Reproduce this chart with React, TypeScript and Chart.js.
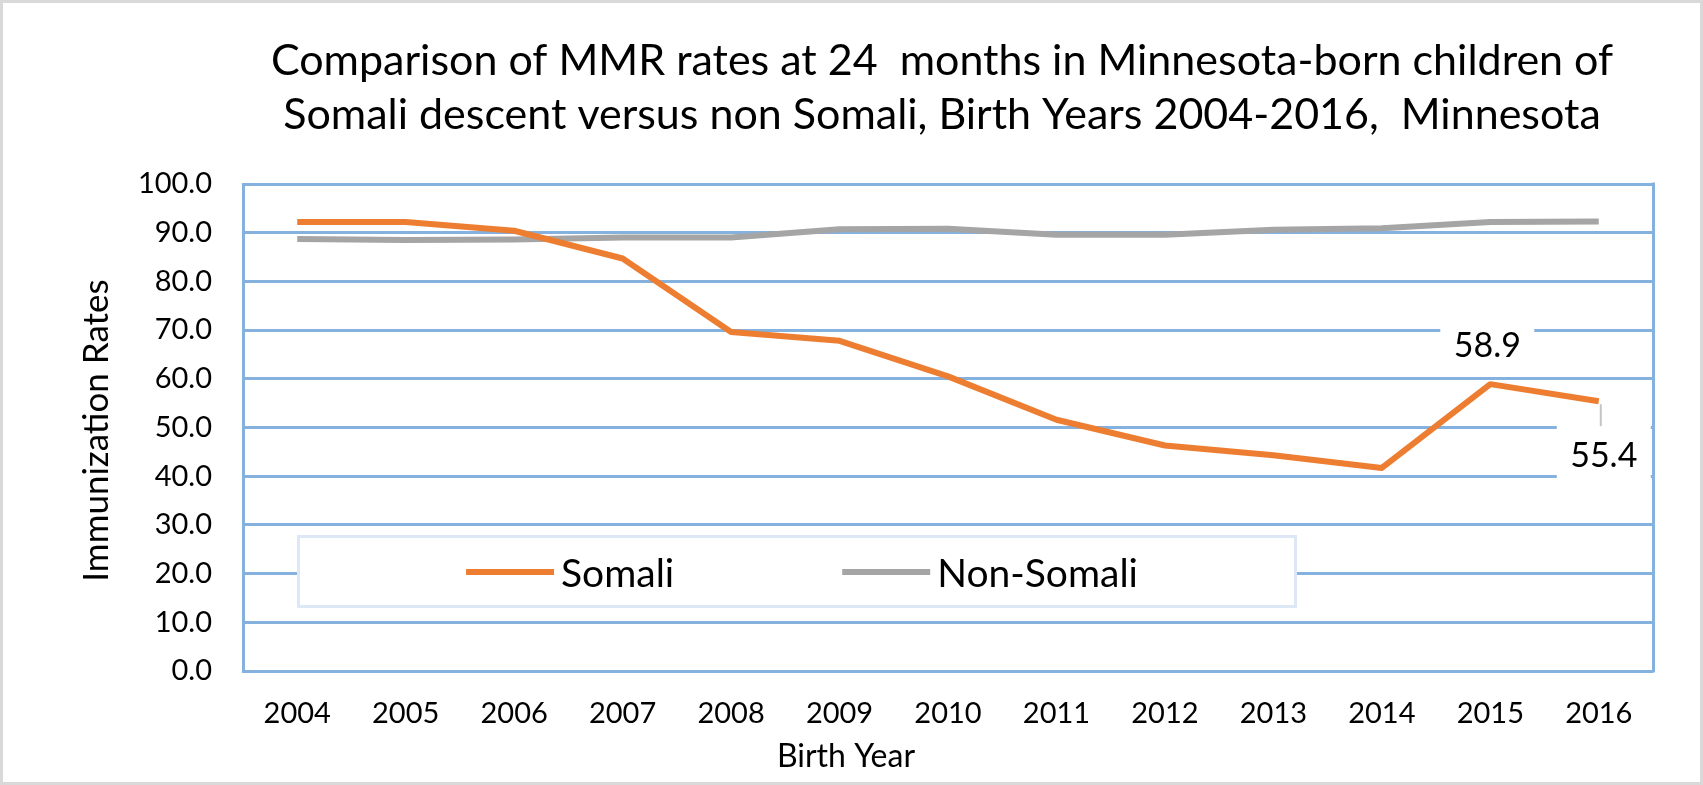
import React, { useEffect, useRef } from "react";
import { Chart, registerables } from "chart.js";

Chart.register(...registerables);

// ---------- data ----------
const years = ["2004", "2005", "2006", "2007", "2008", "2009", "2010", "2011", "2012", "2013", "2014", "2015", "2016"];
const somali = [92.2, 92.2, 90.4, 84.7, 69.6, 67.8, 60.5, 51.6, 46.3, 44.3, 41.7, 58.9, 55.4];
const nonSomali = [88.7, 88.5, 88.6, 89.0, 89.0, 90.7, 90.8, 89.6, 89.6, 90.6, 90.9, 92.2, 92.3];
const seriesNames = ["Somali", "Non-Somali"];
const yTickLabels = ["0.0", "10.0", "20.0", "30.0", "40.0", "50.0", "60.0", "70.0", "80.0", "90.0", "100.0"];
const labelledIndices = [11, 12];
const titleLines = [
  "Comparison of MMR rates at 24  months in Minnesota-born children of",
  "Somali descent versus non Somali, Birth Years 2004-2016,  Minnesota",
];
const yAxisTitle = "Immunization Rates";
const xAxisTitle = "Birth Year";

// ---------- styles ----------
const GRID = "#85b1de";
const FONT = "Lato";
const COLORS = ["#ED7D31", "#A5A5A5"];

const decor = {
  id: "decor",
  beforeDraw(chart: any) {
    const ctx = chart.ctx;
    ctx.save();
    ctx.fillStyle = "#ffffff";
    ctx.fillRect(0, 0, chart.width, chart.height);
    ctx.restore();
  },
  beforeDatasetsDraw(chart: any) {
    const { ctx, chartArea: a } = chart;
    ctx.save();
    // legend box inside plot
    const bx = a.left + 54;
    const by = a.top + 351;
    const bw = 1000;
    const bh = 73;
    ctx.fillStyle = "#ffffff";
    ctx.fillRect(bx, by, bw, bh);
    ctx.strokeStyle = "#dce8f5";
    ctx.lineWidth = 3;
    ctx.strokeRect(bx + 1.5, by + 1.5, bw - 3, bh - 3);

    ctx.font = `39px ${FONT}`;
    ctx.textBaseline = "middle";
    ctx.textAlign = "left";
    const lineLen = 88;
    const gap = 7;
    const itemGap = 168;
    const names = chart.data.datasets.map((d: any) => d.label);
    const widths = names.map((n: string) => ctx.measureText(n).width);
    let total = 0;
    names.forEach((_: string, i: number) => {
      total += lineLen + gap + widths[i];
      if (i < names.length - 1) total += itemGap;
    });
    let x = bx + bw / 2 + 5 - total / 2;
    const ly = by + 37;
    names.forEach((n: string, i: number) => {
      ctx.strokeStyle = chart.data.datasets[i].borderColor;
      ctx.lineWidth = 6;
      ctx.beginPath();
      ctx.moveTo(x, ly);
      ctx.lineTo(x + lineLen, ly);
      ctx.stroke();
      x += lineLen + gap;
      ctx.fillStyle = "#000000";
      ctx.fillText(n, x, ly + 2);
      x += widths[i] + itemGap;
    });
    ctx.restore();
  },
  afterDatasetsDraw(chart: any) {
    const { ctx, chartArea: a } = chart;
    const meta = chart.getDatasetMeta(0);
    const offsets = [
      { dx: -3, dy: -40, leader: false },
      { dx: 5, dy: 53, leader: true },
    ];
    ctx.save();
    labelledIndices.forEach((idx, k) => {
      const p = meta.data[idx];
      const o = offsets[k];
      const cx = p.x + o.dx;
      const cy = p.y + o.dy;
      ctx.fillStyle = "#ffffff";
      ctx.fillRect(cx - 47, cy - 30, 94, 60);
      if (o.leader) {
        ctx.strokeStyle = "#c4c4c4";
        ctx.lineWidth = 2;
        ctx.beginPath();
        ctx.moveTo(p.x + 2, p.y + 3);
        ctx.lineTo(p.x + 2, cy - 28);
        ctx.stroke();
      }
      ctx.fillStyle = "#000000";
      ctx.font = `34px ${FONT}`;
      ctx.textAlign = "center";
      ctx.textBaseline = "middle";
      ctx.fillText(somali[idx].toFixed(1), cx, cy + 2);
    });

    // right border of plot (drawn last so labels never hide it)
    ctx.strokeStyle = GRID;
    ctx.lineWidth = 3;
    ctx.beginPath();
    ctx.moveTo(a.right + 0.5, a.top - 1.5);
    ctx.lineTo(a.right + 0.5, a.bottom + 1.5);
    ctx.stroke();
    ctx.restore();
  },
  afterDraw(chart: any) {
    const { ctx, chartArea: a } = chart;
    ctx.save();
    // chart title
    ctx.fillStyle = "#000000";
    ctx.textAlign = "center";
    ctx.textBaseline = "alphabetic";
    ctx.font = `43px ${FONT}`;
    const cx = (a.left + a.right) / 2 - 6;
    ctx.fillText(titleLines[0], cx, 75);
    ctx.fillText(titleLines[1], cx, 129);

    // y axis title
    ctx.save();
    ctx.translate(97, (a.top + a.bottom) / 2 + 3);
    ctx.rotate(-Math.PI / 2);
    ctx.font = `35px ${FONT}`;
    ctx.textBaseline = "middle";
    ctx.fillText(yAxisTitle, 0, 0);
    ctx.restore();

    // x axis title
    ctx.font = `32px ${FONT}`;
    ctx.textBaseline = "middle";
    ctx.fillText(xAxisTitle, (a.left + a.right) / 2 - 102, 757);

    // outer frame
    ctx.strokeStyle = "#d9d9d9";
    ctx.lineWidth = 3;
    ctx.strokeRect(1.5, 1.5, chart.width - 3, chart.height - 3);
    ctx.restore();
  },
};

export default function App() {
  const ref = useRef<HTMLCanvasElement | null>(null);

  useEffect(() => {
    document.body.style.margin = "0";
    document.body.style.overflow = "hidden";
    const canvas = ref.current;
    if (!canvas) return;
    const chart = new Chart(canvas, {
      type: "line",
      data: {
        labels: years,
        datasets: [
          {
            label: seriesNames[0],
            data: somali,
            borderColor: COLORS[0],
            backgroundColor: COLORS[0],
            borderWidth: 6,
            pointRadius: 0,
            tension: 0,
            borderJoinStyle: "round",
          },
          {
            label: seriesNames[1],
            data: nonSomali,
            borderColor: COLORS[1],
            backgroundColor: COLORS[1],
            borderWidth: 6,
            pointRadius: 0,
            tension: 0,
            borderJoinStyle: "round",
          },
        ],
      },
      options: {
        responsive: false,
        animation: false,
        devicePixelRatio: 1,
        layout: { padding: { left: 0, right: 50, top: 184, bottom: 0 } },
        plugins: {
          legend: { display: false },
          title: { display: false },
          tooltip: { enabled: false },
        },
        scales: {
          x: {
            type: "category",
            offset: true,
            grid: { display: false, drawTicks: false, tickLength: 0 },
            border: { display: false },
            ticks: {
              font: { family: FONT, size: 29 },
              color: "#000000",
              padding: 25,
              maxRotation: 0,
              autoSkip: false,
            },
            afterFit: (s: any) => {
              s.height = 114;
            },
          },
          y: {
            min: 0,
            max: 100,
            ticks: {
              stepSize: 10,
              callback: (_v: any, i: number) => yTickLabels[i],
              font: { family: FONT, size: 29 },
              color: "#000000",
              padding: 31,
            },
            grid: { color: GRID, lineWidth: 3, drawTicks: false, tickLength: 0 },
            border: { display: true, color: GRID, width: 3 },
            afterFit: (s: any) => {
              s.width = 243;
            },
          },
        },
      },
      plugins: [decor],
    } as any);
    return () => chart.destroy();
  }, []);

  return (
    <div style={{ width: 1703, height: 785 }}>
      <canvas ref={ref} width={1703} height={785} style={{ display: "block" }} />
    </div>
  );
}
